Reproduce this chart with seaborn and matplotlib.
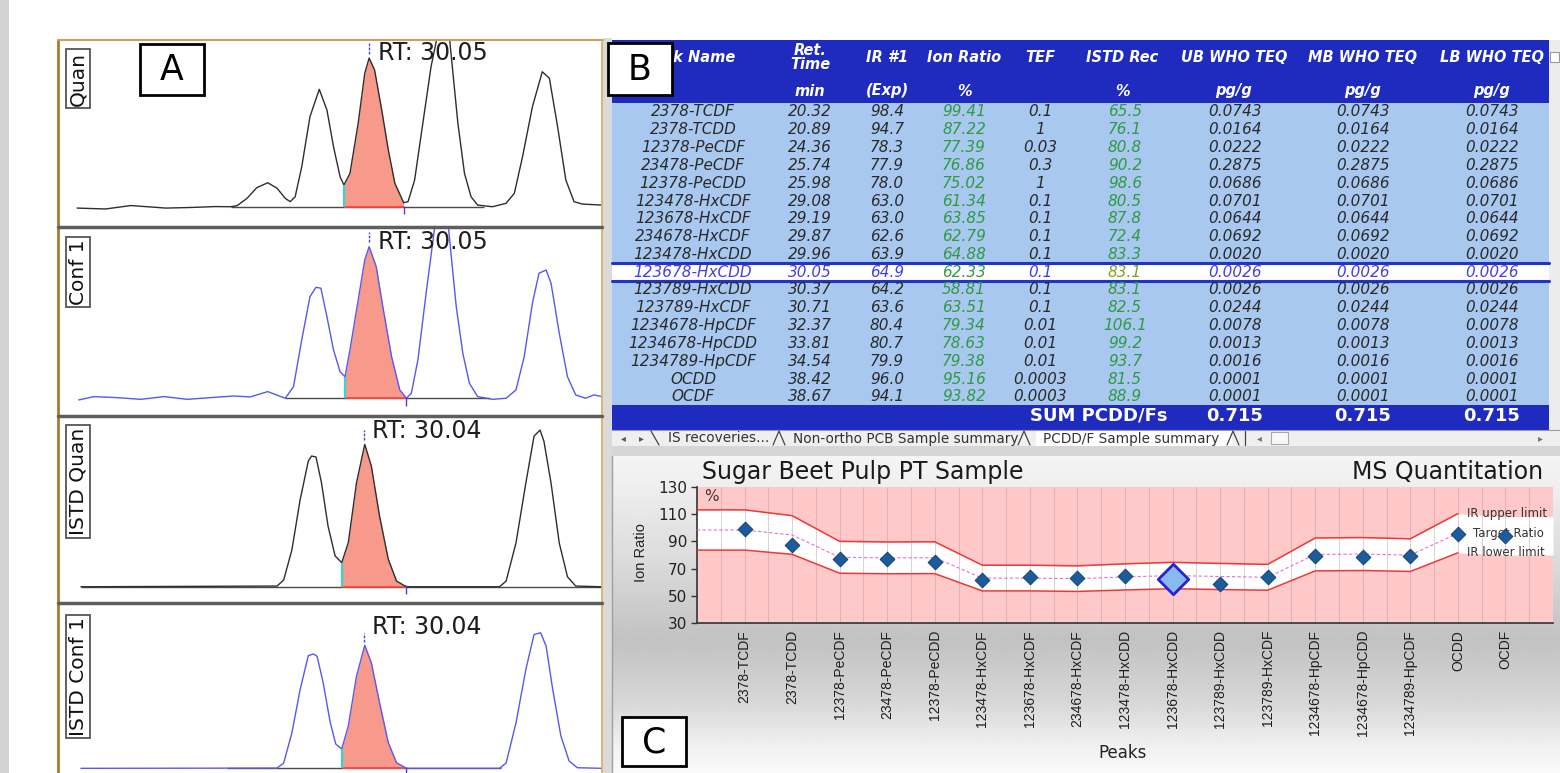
import numpy as np
import pandas as pd
import matplotlib
matplotlib.use("Agg")
import matplotlib.pyplot as plt
from matplotlib.patches import Rectangle
from matplotlib import font_manager
import seaborn as sns

# ---------------- data: table / ion ratio chart ----------------
peak_names = ["2378-TCDF", "2378-TCDD", "12378-PeCDF", "23478-PeCDF", "12378-PeCDD",
              "123478-HxCDF", "123678-HxCDF", "234678-HxCDF", "123478-HxCDD", "123678-HxCDD",
              "123789-HxCDD", "123789-HxCDF", "1234678-HpCDF", "1234678-HpCDD", "1234789-HpCDF",
              "OCDD", "OCDF"]
ret_time = [20.32, 20.89, 24.36, 25.74, 25.98, 29.08, 29.19, 29.87, 29.96, 30.05,
            30.37, 30.71, 32.37, 33.81, 34.54, 38.42, 38.67]
ir_exp = [98.4, 94.7, 78.3, 77.9, 78.0, 63.0, 63.0, 62.6, 63.9, 64.9,
          64.2, 63.6, 80.4, 80.7, 79.9, 96.0, 94.1]
ion_ratio = [99.41, 87.22, 77.39, 76.86, 75.02, 61.34, 63.85, 62.79, 64.88, 62.33,
             58.81, 63.51, 79.34, 78.63, 79.38, 95.16, 93.82]
tef = ["0.1", "1", "0.03", "0.3", "1", "0.1", "0.1", "0.1", "0.1", "0.1",
       "0.1", "0.1", "0.01", "0.01", "0.01", "0.0003", "0.0003"]
istd_rec = [65.5, 76.1, 80.8, 90.2, 98.6, 80.5, 87.8, 72.4, 83.3, 83.1,
            83.1, 82.5, 106.1, 99.2, 93.7, 81.5, 88.9]
ub_teq = [0.0743, 0.0164, 0.0222, 0.2875, 0.0686, 0.0701, 0.0644, 0.0692, 0.0020, 0.0026,
          0.0026, 0.0244, 0.0078, 0.0013, 0.0016, 0.0001, 0.0001]
mb_teq = [0.0743, 0.0164, 0.0222, 0.2875, 0.0686, 0.0701, 0.0644, 0.0692, 0.0020, 0.0026,
          0.0026, 0.0244, 0.0078, 0.0013, 0.0016, 0.0001, 0.0001]
lb_teq = [0.0743, 0.0164, 0.0222, 0.2875, 0.0686, 0.0701, 0.0644, 0.0692, 0.0020, 0.0026,
          0.0026, 0.0244, 0.0078, 0.0013, 0.0016, 0.0001, 0.0001]
sum_teq = [0.715, 0.715, 0.715]
ir_upper = [113.2, 108.9, 90.0, 89.6, 89.7, 72.5, 72.5, 72.0, 73.5, 74.6,
            73.8, 73.1, 92.5, 92.8, 91.9, 110.4, 108.2]
ir_lower = [83.6, 80.5, 66.6, 66.2, 66.3, 53.6, 53.6, 53.2, 54.3, 55.2,
            54.6, 54.1, 68.3, 68.6, 67.9, 81.6, 80.0]
selected_peak = "123678-HxCDD"
header1 = ["Peak Name", "Ret.\nTime", "IR #1", "Ion Ratio", "TEF", "ISTD Rec",
           "UB WHO TEQ", "MB WHO TEQ", "LB WHO TEQ"]
header2 = ["", "min", "(Exp)", "%", "", "%", "pg/g", "pg/g", "pg/g"]
sheet_tabs = ["IS recoveries...", "Non-ortho PCB Sample summary", "PCDD/F Sample summary"]

# ---------------- data: chromatograms (time in min, relative intensity %) ----------------
quan_t = [29.517, 29.569, 29.615, 29.679, 29.724, 29.769, 29.797, 29.809, 29.827, 29.845,
          29.865, 29.882, 29.897, 29.906, 29.915, 29.927, 29.942, 29.959, 29.973, 29.985,
          29.997, 30.004, 30.015, 30.030, 30.042, 30.050, 30.060, 30.073, 30.085, 30.097,
          30.113, 30.121, 30.133, 30.148, 30.163, 30.173, 30.185, 30.197, 30.212, 30.224,
          30.236, 30.248, 30.275, 30.300, 30.315, 30.330, 30.348, 30.366, 30.379, 30.394,
          30.409, 30.424, 30.439, 30.475]
quan_i = [-0.7, -1.3, 1.0, -0.7, -0.3, 0.3, 0.2, 0.9, 5.8, 13.0,
          16.3, 12.6, 5.8, 3.6, 6.9, 27.0, 60.6, 79.0, 65.1, 40.5,
          20.3, 14.8, 22.6, 56.2, 89.7, 100.0, 91.9, 65.1, 38.3, 15.9,
          2.9, 3.6, 18.1, 56.2, 94.2, 112.1, 135.6, 112.1, 56.2, 22.6,
          6.9, 1.3, 0.2, 2.5, 9.2, 33.8, 67.3, 90.8, 86.4, 53.9,
          18.1, 3.6, 2.0, 1.3]
conf_t = [29.520, 29.548, 29.591, 29.633, 29.676, 29.718, 29.760, 29.803, 29.833, 29.865,
          29.897, 29.912, 29.927, 29.942, 29.953, 29.962, 29.973, 29.985, 29.997, 30.006,
          30.015, 30.030, 30.042, 30.050, 30.063, 30.075, 30.091, 30.106, 30.118, 30.127,
          30.139, 30.154, 30.169, 30.183, 30.195, 30.209, 30.221, 30.233, 30.248, 30.275,
          30.300, 30.318, 30.333, 30.348, 30.360, 30.373, 30.382, 30.397, 30.412, 30.427,
          30.445, 30.460, 30.475]
conf_i = [-1.1, 1.1, 0.4, -0.7, 1.1, -0.7, 0.4, 1.5, 0.9, 4.4,
          0.0, 7.7, 38.5, 67.0, 73.2, 72.6, 53.8, 31.9, 17.5, 14.2,
          31.9, 64.8, 91.2, 100.0, 86.8, 60.4, 27.4, 5.5, 0.0, 3.3,
          25.3, 69.3, 111.0, 134.1, 111.7, 60.4, 29.7, 9.9, 1.1, -0.7,
          0.0, 5.5, 27.4, 62.7, 82.5, 84.6, 75.9, 42.9, 14.2, 2.2,
          0.0, 2.2, 1.1]
istdq_t = [29.524, 29.882, 29.894, 29.909, 29.924, 29.939, 29.945, 29.953, 29.963, 29.975,
           29.988, 30.000, 30.012, 30.027, 30.042, 30.054, 30.069, 30.085, 30.100, 30.118,
           30.288, 30.300, 30.318, 30.336, 30.351, 30.362, 30.369, 30.382, 30.397, 30.412,
           30.427, 30.475]
istdq_i = [0.0, 0.5, 4.7, 25.8, 60.9, 88.3, 91.8, 91.1, 73.1, 42.6,
           21.6, 16.9, 31.0, 73.1, 100.0, 84.8, 49.7, 19.3, 4.0, 0.0,
           0.0, 4.0, 30.7, 72.8, 105.8, 110.0, 102.2, 72.8, 30.7, 7.0,
           0.5, 0.0]
istdc_t = [29.524, 29.882, 29.894, 29.909, 29.924, 29.939, 29.948, 29.955, 29.966, 29.979,
           29.989, 30.000, 30.012, 30.027, 30.042, 30.054, 30.069, 30.085, 30.100, 30.118,
           30.288, 30.300, 30.318, 30.336, 30.351, 30.363, 30.373, 30.385, 30.400, 30.415,
           30.430, 30.475]
istdc_i = [0.0, 0.2, 4.3, 28.7, 63.9, 91.6, 93.0, 91.1, 69.9, 37.3,
           19.8, 15.7, 34.4, 75.0, 100.0, 85.9, 53.4, 20.9, 4.6, 0.0,
           0.0, 4.3, 36.8, 80.4, 108.8, 110.2, 99.4, 64.2, 26.2, 5.9,
           0.5, 0.0]
trace_names = ["Quan", "Conf 1", "ISTD Quan", "ISTD Conf 1"]
trace_rt = [30.05, 30.05, 30.04, 30.04]
int_start = [30.004, 30.006, 30.000, 30.000]
int_end = [30.113, 30.118, 30.118, 30.118]

# ---------------- style ----------------
sns.set_style("white")
plt.rcParams['font.family'] = ['DejaVu Sans']
_names = {f.name for f in font_manager.fontManager.ttflist}
if 'Liberation Sans Narrow' in _names:
    tick_font, tick_size = ['Liberation Sans Narrow'], 12
else:
    tick_font, tick_size = ['Liberation Sans', 'DejaVu Sans'], 10

W, H = 1560, 773
fig = plt.figure(figsize=(W / 100, H / 100), dpi=100)
fig.patch.set_facecolor('white')


def px_axes(x0, y0, x1, y1, z):
    ax = fig.add_axes([x0 / W, 1 - y1 / H, (x1 - x0) / W, (y1 - y0) / H])
    ax.set_zorder(z)
    return ax


bg = px_axes(0, 0, W, H, 0)
fg = px_axes(0, 0, W, H, 10)
fg.patch.set_alpha(0)

# ---------------- background pieces ----------------
bg.add_patch(Rectangle((0, 0), 9, H, fc='#d2d2d2', lw=0))
bg.add_patch(Rectangle((603, 38), 9, H - 38, fc='#dadada', lw=0))
# panel C gradient
ys = [456, 480, 560, 640, 700, 750, 773]
gs = [0.96, 0.94, 0.86, 0.76, 0.84, 0.95, 0.98]
yy = np.linspace(456, 773, 300)
g = np.interp(yy, ys, gs)
bg.imshow(np.repeat(g[:, None], 2, axis=1), cmap='gray', vmin=0, vmax=1,
          extent=(612, 1560, 773, 456), aspect='auto', interpolation='bilinear', zorder=0.5)
bg.plot([612, 612], [456, 773], color='#a0a0a0', lw=1)

# ---------------- panel B: table ----------------
hdr_blue = '#1f2abf'
bg.add_patch(Rectangle((612, 40), 937, 63, fc=hdr_blue, lw=0))
bg.add_patch(Rectangle((612, 103), 937, 302, fc='#a8c8ef', lw=0))
bg.add_patch(Rectangle((612, 405), 937, 25, fc=hdr_blue, lw=0))
bg.add_patch(Rectangle((1549, 40), 11, 390, fc='#ececec', lw=0))
bg.add_patch(Rectangle((1550, 52), 9, 10, fc='white', ec='#999999', lw=0.8))

col_x = [693, 810, 887, 964, 1040, 1125, 1235, 1363, 1492]
hdr_x = [689, 810, 887, 964, 1040, 1122, 1234, 1363, 1492]
for cx, h1, h2 in zip(hdr_x, header1, header2):
    bg.text(cx, 57.5, h1, ha='center', va='center', color='white', fontsize=10.5,
            weight='bold', style='italic', linespacing=0.95)
    if h2:
        bg.text(cx, 91, h2, ha='center', va='center', color='white', fontsize=10.5,
                weight='bold', style='italic')

sel = peak_names.index(selected_peak)
row_y0, row_dy = 112, 17.8
ys_sel = row_y0 + sel * row_dy
bg.add_patch(Rectangle((612, ys_sel - 9), 937, 18, fc='white', lw=0))
bg.plot([612, 1549], [ys_sel - 9, ys_sel - 9], color='#2233c8', lw=2.2)
bg.plot([612, 1549], [ys_sel + 9, ys_sel + 9], color='#2233c8', lw=2.2)

dark = '#2a2a2a'
green = '#2f9a42'
for i in range(len(peak_names)):
    y = row_y0 + i * row_dy
    base_c = '#4a3ee0' if i == sel else dark
    rec_c = '#86a020' if i == sel else green
    cells = [peak_names[i], f"{ret_time[i]:.2f}", f"{ir_exp[i]:.1f}", f"{ion_ratio[i]:.2f}",
             tef[i], f"{istd_rec[i]:.1f}", f"{ub_teq[i]:.4f}", f"{mb_teq[i]:.4f}", f"{lb_teq[i]:.4f}"]
    cols = [base_c, base_c, base_c, green, base_c, rec_c, base_c, base_c, base_c]
    for cx, txt, c in zip(col_x, cells, cols):
        bg.text(cx, y, txt, ha='center', va='center', fontsize=11, style='italic', color=c)

bg.text(1167, 416, "SUM PCDD/Fs", ha='right', va='center', fontsize=13, weight='bold', color='white')
for cx, v in zip(col_x[6:], sum_teq):
    bg.text(cx, 416, f"{v:.3f}", ha='center', va='center', fontsize=13, weight='bold', color='white')

# sheet tabs bar
bg.add_patch(Rectangle((612, 430), 948, 16, fc='#efefef', lw=0))
bg.add_patch(Rectangle((1036, 431), 196, 15, fc='white', lw=0))
bg.add_patch(Rectangle((612, 446), 948, 10, fc='#d6d6d6', lw=0))
bg.plot([612, 1560], [430, 430], color='#9a9a9a', lw=0.8)
bg.text(623, 438.5, "\u25c2", ha='center', va='center', fontsize=7, color='#555555')
bg.text(641, 438.5, "\u25b8", ha='center', va='center', fontsize=7, color='#555555')
bg.plot([651, 659], [431, 445], color='#444444', lw=0.9)
for sx in [779, 1024, 1233]:
    bg.plot([sx - 6, sx, sx + 6], [445, 431, 445], color='#444444', lw=0.9)
bg.plot([1245, 1245], [431, 445], color='#444444', lw=0.9)
tab_x = [668, 793, 1043]
for tx, tname in zip(tab_x, sheet_tabs):
    bg.text(tx, 438.5, tname, ha='left', va='center', fontsize=9.8, color='#333333')
bg.text(1259, 438.5, "\u25c2", ha='center', va='center', fontsize=7, color='#777777')
bg.add_patch(Rectangle((1271, 432), 17, 12, fc='#f8f8f8', ec='#aaaaaa', lw=0.8))
bg.text(1540, 438.5, "\u25b8", ha='center', va='center', fontsize=7, color='#777777')

bg.set_xlim(0, W)
bg.set_ylim(H, 0)
bg.axis('off')

# ---------------- panel A: chromatograms ----------------
traces = [(quan_t, quan_i), (conf_t, conf_i), (istdq_t, istdq_i), (istdc_t, istdc_i)]
tops = [40, 227, 416, 603]
bots = [227, 416, 603, 773]
ylims = [(-13.4, 112.1), (-11.7, 113.0), (-11.4, 119.9), (-3.8, 134.4)]
line_cols = ['#2e2e2e', '#5858ee', '#2e2e2e', '#5858ee']
base_ranges = [(29.797, 30.26), (29.897, 30.27), (29.524, 30.475), (29.79, 30.29)]
label_dy = [9.4, 10.6, 10.8, 17.0]
for k in range(4):
    ax = px_axes(59, tops[k], 602, bots[k], 2)
    t = np.array(traces[k][0])
    it = np.array(traces[k][1])
    ax.hlines(0, base_ranges[k][0], base_ranges[k][1], color='#4a4a4a', lw=1.0, zorder=1)
    m = (t >= int_start[k] - 1e-9) & (t <= int_end[k] + 1e-9)
    ax.fill_between(t[m], it[m], 0, color='#f7998b', lw=0, zorder=2)
    ax.hlines(0, int_start[k], int_end[k], color='#ff3b3b', lw=1.2, zorder=3)
    df = pd.DataFrame({'t': t, 'i': it})
    sns.lineplot(data=df, x='t', y='i', ax=ax, color=line_cols[k], lw=1.0,
                 estimator=None, sort=False, legend=False, zorder=4)
    v0 = it[np.argmin(np.abs(t - int_start[k]))]
    ax.vlines(int_start[k], 0, v0, color='#35d5d0', lw=1.6, zorder=5)
    ax.vlines(int_end[k], -5, 1, color='#4444dd', lw=1.0, zorder=5)
    ax.vlines(trace_rt[k], 103, 110, color='#4444dd', lw=1.0, linestyles=(0, (2, 1)), zorder=5)
    ax.annotate(f"RT: {trace_rt[k]:.2f}", xy=(trace_rt[k], 1), xycoords=('data', 'axes fraction'),
                xytext=(6.2, -label_dy[k]), textcoords='offset points', ha='left', va='center',
                fontsize=17, color='#1e1e1e', zorder=6)
    ax.set_xlim(29.484, 30.475)
    ax.set_ylim(*ylims[k])
    ax.axis('off')

# ---------------- panel C: ion ratio chart ----------------
axc = px_axes(697, 487, 1553, 623, 3)
axc.set_facecolor('#ffc9c9')
xi = np.arange(len(peak_names))
up = np.array(ir_upper)
lo = np.array(ir_lower)
tg = np.array(ir_exp)
x_fill = np.r_[-1, xi, len(xi)]
axc.fill_between(x_fill, np.r_[lo[0], lo, lo[-1]], np.r_[up[0], up, up[-1]],
                 color='white', lw=0, zorder=1)
for gx in np.arange(-0.5, len(xi), 0.5):
    axc.axvline(gx, color='#b89a9a', lw=0.6, alpha=0.55, zorder=2)
n_line = len(xi) - 1          # limit lines run up to OCDD, where the labels start
last = n_line - 1
x_line = np.r_[-1, xi[:n_line]]
lines_df = pd.DataFrame({
    'x': np.tile(x_line, 3),
    'v': np.r_[np.r_[up[0], up[:n_line]], np.r_[lo[0], lo[:n_line]], np.r_[tg[0], tg[:n_line]]],
    'series': ['IR upper limit'] * len(x_line) + ['IR lower limit'] * len(x_line) + ['Target Ratio'] * len(x_line),
})
sns.lineplot(data=lines_df[lines_df.series != 'Target Ratio'], x='x', y='v', units='series',
             estimator=None, color='#ee3636', lw=1.1, ax=axc, legend=False, zorder=3)
sns.lineplot(data=lines_df[lines_df.series == 'Target Ratio'], x='x', y='v',
             estimator=None, color='#e070e0', lw=0.8, ax=axc, legend=False, zorder=3,
             linestyle=(0, (3, 2)))
pts = pd.DataFrame({'x': xi, 'ratio': ion_ratio})
sns.scatterplot(data=pts.drop(index=sel), x='x', y='ratio', marker='D', s=55,
                color='#1d5c9c', edgecolor='#15477a', linewidth=0.8, ax=axc, zorder=6, legend=False)
sns.scatterplot(data=pts.loc[[sel]], x='x', y='ratio', marker='D', s=240,
                color='#8bb8ee', edgecolor='#2323dd', linewidth=2, ax=axc, zorder=6, legend=False)
lab_x = xi[last] + 0.2
axc.text(lab_x, up[last], "IR upper limit", va='center', ha='left', fontsize=8.5, color='#333333', zorder=4)
axc.text(lab_x + 0.12, tg[last], "Target Ratio", va='center', ha='left', fontsize=8.5, color='#333333', zorder=4)
axc.text(lab_x, lo[last], "IR lower limit", va='center', ha='left', fontsize=8.5, color='#333333', zorder=4)
axc.text(0.008, 0.93, "%", transform=axc.transAxes, fontsize=11, color='#443333', va='center', ha='left')

axc.set_xlim(-1, len(xi))
axc.set_ylim(30, 130)
axc.set_yticks([30, 50, 70, 90, 110, 130])
axc.set_xticks(xi)
axc.set_xticklabels(peak_names, rotation=90, family=tick_font, fontsize=tick_size, color='#1e1e1e')
axc.tick_params(axis='x', length=0, pad=5)
axc.tick_params(axis='y', length=4, width=1, color='#333333', labelsize=11, labelcolor='#222222', pad=3, left=True)
axc.set_xlabel("")
axc.set_ylabel("")
for s in ['top', 'right']:
    axc.spines[s].set_visible(False)
for s in ['left', 'bottom']:
    axc.spines[s].set_color('#333333')
    axc.spines[s].set_linewidth(1.2)

# ---------------- foreground: frames, labels, titles ----------------
fg.plot([58, 58], [40, 773], color='#a87a30', lw=2)
fg.plot([58, 603], [40, 40], color='#c8a060', lw=1.5)
fg.plot([602, 602], [40, 773], color='#d8b060', lw=1.3)
for yline in [227, 416, 603]:
    fg.plot([58, 602], [yline, yline], color='#5e5e5e', lw=2.5)
label_cy = [78.5, 272, 481.5, 676.5]
for name, cy in zip(trace_names, label_cy):
    fg.text(78, cy, name, rotation=90, ha='center', va='center', fontsize=14.5, color='#111111',
            bbox=dict(boxstyle='square,pad=0.12', fc='white', ec='#555555', lw=1.3))

for (bx, by, bw, bh, letter) in [(140, 44, 64, 51, 'A'), (608, 43, 64, 52, 'B'), (622, 717, 64, 49, 'C')]:
    fg.add_patch(Rectangle((bx, by), bw, bh, fc='white', ec='black', lw=2))
    fg.text(bx + bw / 2, by + bh / 2 + 1, letter, ha='center', va='center', fontsize=25, color='black')

fg.text(702, 472, "Sugar Beet Pulp PT Sample", ha='left', va='center', fontsize=17, color='#1a1a1a')
fg.text(1543, 472, "MS Quantitation", ha='right', va='center', fontsize=17, color='#1a1a1a')
fg.text(641, 553, "Ion Ratio", rotation=90, ha='center', va='center', fontsize=10.5,
        family=['Liberation Sans', 'DejaVu Sans'], color='#222222')
fg.text(1123, 753, "Peaks", ha='center', va='center', fontsize=12, color='#222222')

fg.set_xlim(0, W)
fg.set_ylim(H, 0)
fg.axis('off')

fig.savefig("out.png", dpi=100, facecolor='white')
